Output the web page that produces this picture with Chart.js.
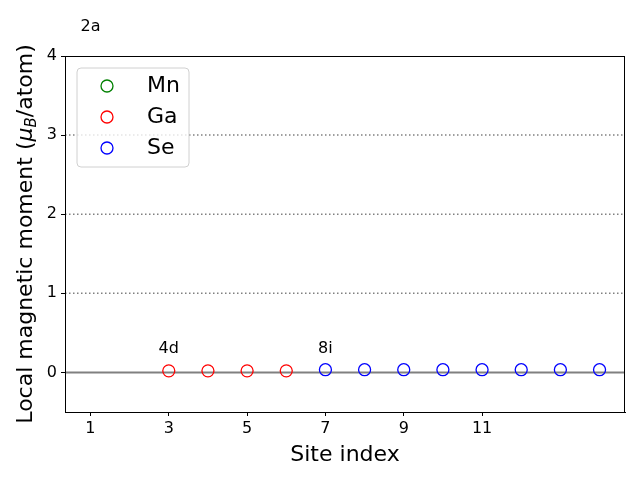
<!DOCTYPE html>
<html>
<head>
<meta charset="utf-8">
<title>Local magnetic moment</title>
<script src="https://cdn.jsdelivr.net/npm/chart.js@4.4.0/dist/chart.umd.min.js"></script>
<style>
  html, body { margin: 0; padding: 0; background: #fff; }
  canvas { display: block; }
</style>
</head>
<body>
<canvas id="grafico" width="640" height="480"></canvas>
<script>
// values (Mn sites fall outside the y range, none visible)
const mnSites = [];
const mnMoments = [];
const gaSites = [3, 4, 5, 6];
const gaMoments = [0.02, 0.02, 0.02, 0.02];
const seSites = [7, 8, 9, 10, 11, 12, 13, 14];
const seMoments = [0.035, 0.035, 0.035, 0.035, 0.035, 0.035, 0.035, 0.035];

const xTicks = [1, 3, 5, 7, 9, 11];
const yTicks = [0, 1, 2, 3, 4];
const dottedLines = [1, 2, 3];

const siteLabels = ["2a", "4d", "8i"];
const siteLabelX = [1, 3, 7];
const siteLabelY = [4.32, 0.24, 0.24];

const FONT = "'DejaVu Sans', sans-serif";
Chart.defaults.font.family = FONT;

function pontos(xs, ys) {
  return xs.map((x, i) => ({ x: x, y: ys[i] }));
}

function serie(label, xs, ys, cor) {
  return {
    label: label,
    data: pontos(xs, ys),
    borderColor: cor,
    backgroundColor: "rgba(0,0,0,0)",
    pointRadius: 6,
    pointHoverRadius: 6,
    pointBorderWidth: 1.3,
    showLine: false,
  };
}

function caixaArredondada(ctx, x, y, w, h, r) {
  ctx.beginPath();
  ctx.moveTo(x + r, y);
  ctx.lineTo(x + w - r, y);
  ctx.arcTo(x + w, y, x + w, y + r, r);
  ctx.lineTo(x + w, y + h - r);
  ctx.arcTo(x + w, y + h, x + w - r, y + h, r);
  ctx.lineTo(x + r, y + h);
  ctx.arcTo(x, y + h, x, y + h - r, r);
  ctx.lineTo(x, y + r);
  ctx.arcTo(x, y, x + r, y, r);
  ctx.closePath();
}

const desenhos = {
  id: "desenhos",
  beforeDatasetsDraw(chart) {
    const { ctx, chartArea: a, scales: { y } } = chart;
    ctx.save();
    ctx.strokeStyle = "#808080";
    ctx.lineWidth = 1.5;
    ctx.setLineDash([1.5, 2.5]);
    dottedLines.forEach((v) => {
      const py = y.getPixelForValue(v);
      ctx.beginPath();
      ctx.moveTo(a.left, py);
      ctx.lineTo(a.right, py);
      ctx.stroke();
    });
    ctx.setLineDash([]);
    ctx.lineWidth = 2;
    const y0 = y.getPixelForValue(0);
    ctx.beginPath();
    ctx.moveTo(a.left, y0);
    ctx.lineTo(a.right, y0);
    ctx.stroke();
    ctx.restore();
  },
  afterDraw(chart) {
    const { ctx, chartArea: a, scales: { x, y } } = chart;
    ctx.save();

    // frame
    ctx.strokeStyle = "#000";
    ctx.lineWidth = 1;
    ctx.strokeRect(a.left + 0.5, a.top + 0.5, a.right - a.left - 1, a.bottom - a.top);

    // site labels
    ctx.fillStyle = "#000";
    ctx.font = "16px " + FONT;
    ctx.textAlign = "center";
    ctx.textBaseline = "alphabetic";
    siteLabels.forEach((t, i) => {
      ctx.fillText(t, x.getPixelForValue(siteLabelX[i]), y.getPixelForValue(siteLabelY[i]));
    });

    // legend
    const lx = a.left + 12, ly = a.top + 12;
    caixaArredondada(ctx, lx, ly, 112, 99, 4);
    ctx.fillStyle = "rgba(255,255,255,0.8)";
    ctx.fill();
    ctx.strokeStyle = "#d0d0d0";
    ctx.stroke();
    ctx.font = "22px " + FONT;
    ctx.textAlign = "left";
    chart.data.datasets.forEach((ds, i) => {
      const cy = ly + 18 + i * 31;
      ctx.beginPath();
      ctx.arc(lx + 30, cy, 6, 0, Math.PI * 2);
      ctx.strokeStyle = ds.borderColor;
      ctx.lineWidth = 1.3;
      ctx.stroke();
      ctx.fillStyle = "#000";
      ctx.fillText(ds.label, lx + 70, cy + 6);
    });

    // x title
    ctx.font = "22px " + FONT;
    ctx.textAlign = "center";
    ctx.fillText("Site index", (a.left + a.right) / 2, 461);

    // y title with mu_B
    const partes = [
      { t: "Local magnetic moment (", f: "22px " + FONT, dy: 0 },
      { t: "\u03bc", f: "italic 22px " + FONT, dy: 0 },
      { t: "B", f: "italic 15px " + FONT, dy: 4 },
      { t: "/atom)", f: "22px " + FONT, dy: 0 },
    ];
    let total = 0;
    partes.forEach((p) => {
      ctx.font = p.f;
      p.w = ctx.measureText(p.t).width;
      total += p.w;
    });
    ctx.translate(32, (a.top + a.bottom) / 2);
    ctx.rotate(-Math.PI / 2);
    ctx.textAlign = "left";
    let px = -total / 2;
    partes.forEach((p) => {
      ctx.font = p.f;
      ctx.fillText(p.t, px, p.dy);
      px += p.w;
    });
    ctx.restore();
  },
};

new Chart(document.getElementById("grafico"), {
  type: "scatter",
  data: {
    datasets: [
      serie("Mn", mnSites, mnMoments, "#008000"),
      serie("Ga", gaSites, gaMoments, "#ff0000"),
      serie("Se", seSites, seMoments, "#0000ff"),
    ],
  },
  options: {
    responsive: false,
    animation: false,
    layout: { padding: { top: 56, right: 15, left: 0, bottom: 0 } },
    plugins: {
      legend: { display: false },
      tooltip: { enabled: false },
    },
    scales: {
      x: {
        type: "linear",
        min: 0.35,
        max: 14.65,
        afterBuildTicks: (s) => {
          s.ticks = xTicks.map((v) => ({ value: v }));
        },
        afterFit: (s) => {
          s.height = 68;
        },
        grid: { drawOnChartArea: false, tickLength: 4, tickColor: "#000" },
        border: { color: "#000" },
        ticks: { color: "#000", font: { size: 16 }, padding: 3, maxRotation: 0 },
      },
      y: {
        type: "linear",
        min: -0.5,
        max: 4,
        afterBuildTicks: (s) => {
          s.ticks = yTicks.map((v) => ({ value: v }));
        },
        afterFit: (s) => {
          s.width = 65;
        },
        grid: { drawOnChartArea: false, tickLength: 4, tickColor: "#000" },
        border: { color: "#000" },
        ticks: { color: "#000", font: { size: 16 }, padding: 4 },
      },
    },
  },
  plugins: [desenhos],
});
</script>
</body>
</html>
